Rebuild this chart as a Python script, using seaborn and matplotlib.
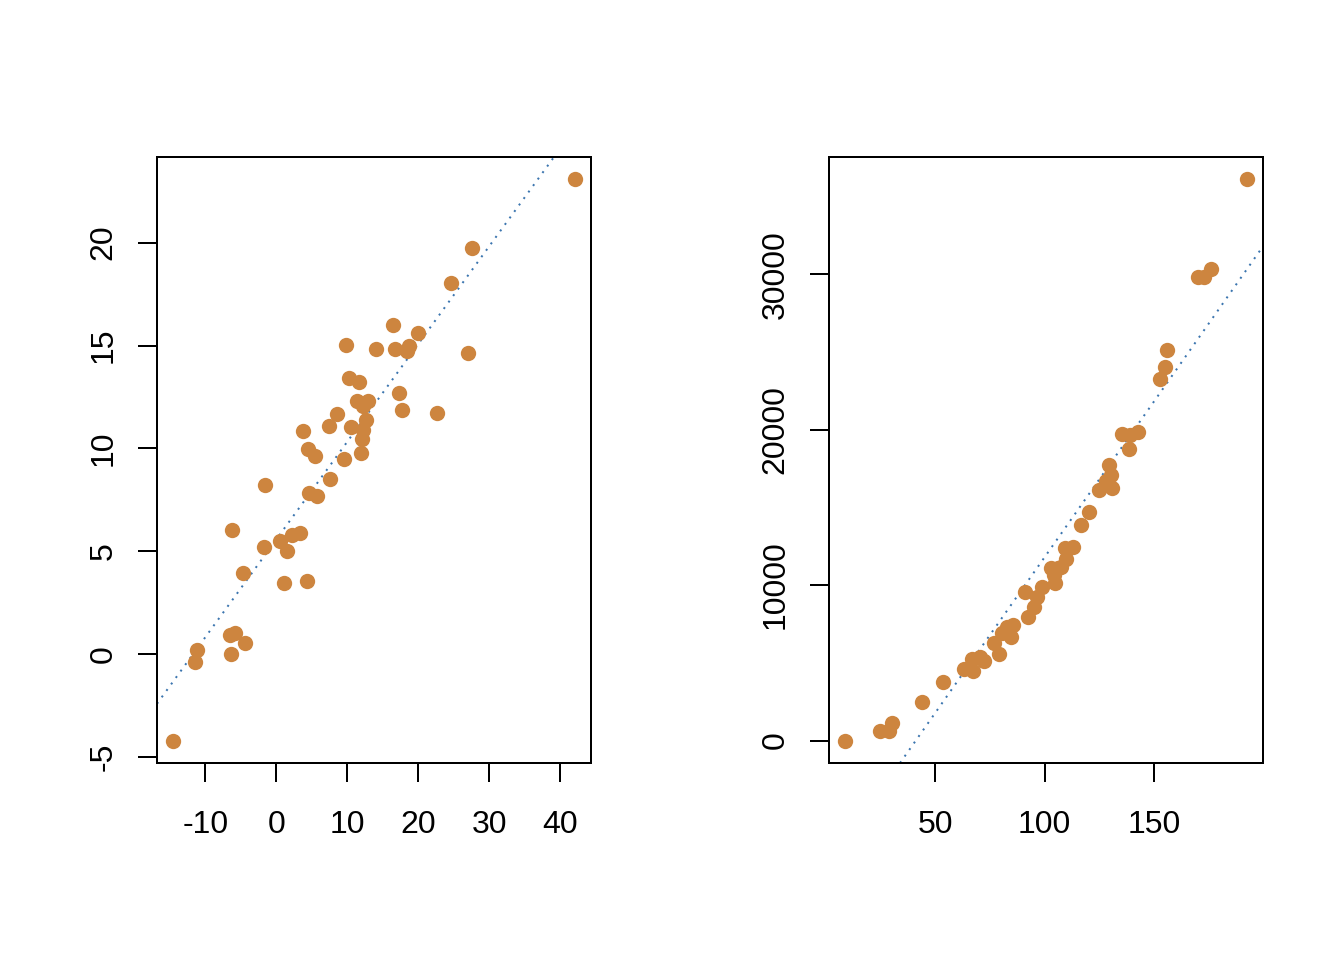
import seaborn as sns
import matplotlib.pyplot as plt
import pandas as pd
import numpy as np

# values
left_x = [42.1, 27.6, 24.6, 16.5, 20.0, 9.86, 14.1, 16.8, 18.7, 18.4,
          27.0, 10.3, 11.6, 17.3, 11.4, 12.86, 12.25, 17.7, 22.7, 8.6,
          12.7, 7.46, 10.56, 12.25, 3.8, 12.15, 4.5, 5.5, 11.97, 9.58,
          -1.55, 7.5, 4.65, 5.68, -6.2, 3.38, 2.25, 0.56, -1.69, 1.55,
          -4.65, 1.13, 4.37, -6.58, -5.87, -4.37, -11.13, -11.4, -6.44, -14.56]
left_y = [23.07, 19.74, 18.04, 16.0, 15.6, 15.03, 14.83, 14.83, 15.0, 14.74,
          14.64, 13.43, 13.23, 12.68, 12.31, 12.31, 12.05, 11.87, 11.71, 11.68,
          11.39, 11.1, 11.05, 10.92, 10.84, 10.47, 9.98, 9.63, 9.77, 9.48,
          8.22, 8.51, 7.85, 7.68, 6.03, 5.9, 5.79, 5.5, 5.22, 5.01,
          3.96, 3.48, 3.57, 0.94, 1.02, 0.56, 0.22, -0.36, 0.03, -4.19]

right_x = [192.6, 176.2, 172.8, 170.2, 156.1, 155.1, 152.9, 135.5, 142.8, 139.3,
           138.7, 129.5, 130.3, 128.0, 131.0, 124.8, 120.5, 116.7, 112.8, 109.2,
           110.0, 107.3, 102.7, 104.7, 98.9, 91.1, 96.3, 95.1, 92.2, 85.6,
           82.9, 84.4, 76.8, 78.9, 66.6, 72.1, 63.1, 67.0, 53.6, 44.0,
           30.1, 28.5, 24.4, 8.6, 70.6, 106.0, 104.2, 80.5]
right_y = [36100, 30340, 29820, 29820, 25130, 24040, 23270, 19710, 19860, 19650,
           18750, 17740, 17080, 16710, 16260, 16110, 14720, 13860, 12470, 12400,
           11660, 11180, 11080, 10120, 9880, 9580, 9260, 8610, 7970, 7410,
           7330, 6680, 6300, 5590, 5270, 5120, 4630, 4500, 3790, 2490,
           1140, 620, 640, 0, 5400, 11080, 10650, 6900]

left_xticks = [-10, 0, 10, 20, 30, 40]
left_yticks = [-5, 0, 5, 10, 15, 20]
right_xticks = [50, 100, 150]
right_yticks = [0, 10000, 20000, 30000]

df_left = pd.DataFrame({"x": left_x, "y": left_y})
df_right = pd.DataFrame({"x": right_x, "y": right_y})

sns.set_style("ticks")
plt.rcParams["font.family"] = ["Liberation Sans", "DejaVu Sans"]

fig = plt.figure(figsize=(7, 5), dpi=192)
ax1 = fig.add_axes([0.1168, 0.2052, 0.3229, 0.6313])
ax2 = fig.add_axes([0.6168, 0.2052, 0.3229, 0.6313])

panels = [
    (ax1, df_left, left_xticks, left_yticks),
    (ax2, df_right, right_xticks, right_yticks),
]

for ax, df, xt, yt in panels:
    sns.scatterplot(data=df, x="x", y="y", ax=ax, color="#CD853F",
                    s=33, linewidth=0, alpha=1, zorder=3)
    # R style 4% padding
    xr = df["x"].max() - df["x"].min()
    yr = df["y"].max() - df["y"].min()
    ax.set_xlim(df["x"].min() - 0.04 * xr, df["x"].max() + 0.04 * xr)
    ax.set_ylim(df["y"].min() - 0.04 * yr, df["y"].max() + 0.04 * yr)
    # least squares line, like abline(lm(y ~ x))
    slope, intercept = np.polyfit(df["x"], df["y"], 1)
    ax.axline((0, intercept), slope=slope, color="#3B75AF", linestyle=(0, (1, 3)),
              linewidth=0.75, zorder=2)
    ax.set_xticks(xt)
    ax.set_yticks(yt)
    ax.set_xticklabels([str(v) for v in xt])
    ax.set_yticklabels([str(v) for v in yt], rotation=90, va="center")
    ax.set_xlabel("")
    ax.set_ylabel("")
    ax.tick_params(length=7, width=0.75, labelsize=12, color="black",
                   labelcolor="black")
    ax.tick_params(axis="x", pad=10.7)
    ax.tick_params(axis="y", pad=7.5)
    for sp in ax.spines.values():
        sp.set_linewidth(0.75)
        sp.set_color("black")

plt.savefig("out.png", dpi=192)
